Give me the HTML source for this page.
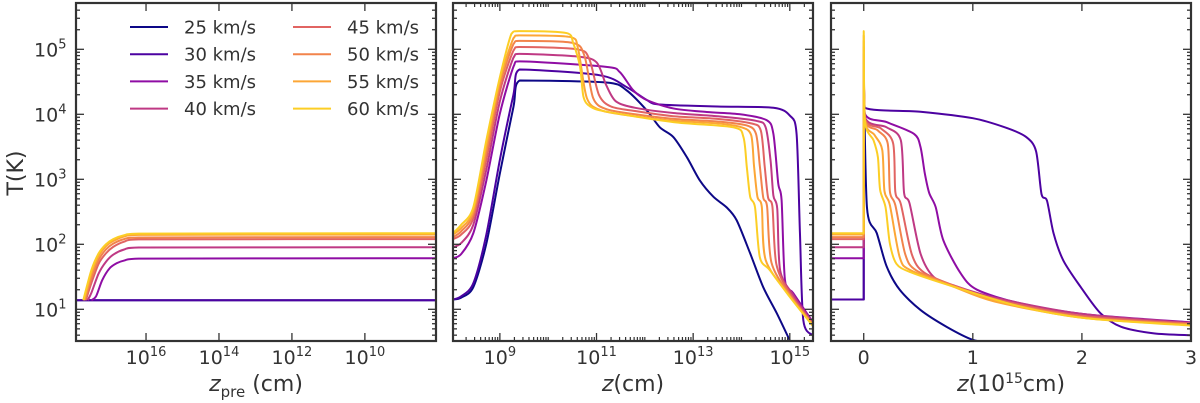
<!DOCTYPE html>
<html><head><meta charset="utf-8"><style>
html,body{margin:0;padding:0;background:#fff;}
svg{display:block;font-family:"DejaVu Sans","Liberation Sans",sans-serif;}
</style></head><body>
<svg id="chart" width="1200" height="403" viewBox="0 0 1200 403"></svg>
<script>
// ---- data (log10 values) ----
const speeds = ["25 km/s","30 km/s","35 km/s","40 km/s","45 km/s","50 km/s","55 km/s","60 km/s"];
const colors = ["#0d0887","#4c02a1","#8f0da4","#bf3984","#e16462","#f2844b","#fca636","#fcce25"];
const yTickExps = [1,2,3,4,5];
const p1TickExps = [16,14,12,10];
const p2TickExps = [9,11,13,15];
const p3Ticks = [0,1,2,3];
// panel 1: [log z_pre, log T]
const pre25 = [[17.92,1.14],[8.05,1.14]];
const pre30 = [[17.92,1.14],[8.05,1.14]];
const pre35 = [[17.5,1.14],[17.37,1.2],[17.2,1.45],[17.0,1.63],[16.8,1.71],[16.6,1.75],[16.2,1.78],[8.05,1.785]];
const pre40 = [[17.6,1.14],[17.5,1.25],[17.3,1.55],[17.1,1.73],[16.9,1.84],[16.6,1.92],[16.2,1.95],[8.05,1.954]];
const pre45 = [[17.65,1.14],[17.5,1.4],[17.3,1.7],[17.1,1.86],[16.9,1.96],[16.6,2.04],[16.2,2.075],[8.05,2.08]];
const pre50 = [[17.68,1.14],[17.5,1.48],[17.3,1.76],[17.1,1.92],[16.9,2.01],[16.6,2.08],[16.2,2.105],[8.05,2.11]];
const pre55 = [[17.7,1.14],[17.5,1.55],[17.3,1.82],[17.1,1.97],[16.9,2.05],[16.6,2.12],[16.2,2.145],[8.05,2.15]];
const pre60 = [[17.72,1.14],[17.5,1.6],[17.3,1.86],[17.1,2.0],[16.9,2.08],[16.6,2.14],[16.2,2.165],[8.05,2.17]];
// panel 2: [log z, log T]
const mid25 = [[8.03,1.15],[8.2,1.18],[8.45,1.34],[8.72,2.01],[9.0,3.09],[9.28,4.11],[9.41,4.52],[11.2,4.49],[11.62,4.37],[12.04,4.06],[12.31,3.8],[12.59,3.65],[12.87,3.34],[13.14,2.98],[13.42,2.73],[13.69,2.57],[13.9,2.37],[14.18,1.86],[14.45,1.34],[14.73,0.94],[15.0,0.52]];
const mid30 = [[8.03,1.15],[8.2,1.2],[8.45,1.4],[8.72,2.15],[9.0,3.3],[9.28,4.3],[9.41,4.69],[11.07,4.6],[11.62,4.42],[12.04,4.22],[12.31,4.15],[13.5,4.12],[14.66,4.1],[15.0,3.98],[15.14,3.7],[15.21,2.17],[15.28,0.83],[15.48,0.6]];
const mid35 = [[8.03,1.785],[8.2,1.85],[8.45,2.17],[8.72,2.98],[9.0,4.01],[9.28,4.73],[9.41,4.815],[11.2,4.73],[11.48,4.65],[11.76,4.37],[12.04,4.22],[12.59,4.09],[13.28,4.035],[13.97,4.0],[14.52,3.91],[14.66,3.7],[14.76,2.94],[14.83,2.68],[14.9,1.45],[15.07,1.25],[15.48,0.8]];
const mid40 = [[8.03,1.954],[8.2,2.02],[8.45,2.3],[8.72,3.15],[9.0,4.2],[9.28,4.87],[9.41,4.93],[10.6,4.89],[11.0,4.8],[11.2,4.45],[11.4,4.2],[11.8,4.1],[12.59,4.02],[13.5,3.97],[14.3,3.9],[14.5,3.8],[14.6,3.3],[14.66,2.75],[14.74,2.55],[14.8,1.6],[15.07,1.22],[15.48,0.78]];
const mid45 = [[8.03,2.08],[8.2,2.15],[8.45,2.4],[8.72,3.3],[9.0,4.35],[9.28,4.98],[9.41,5.035],[10.6,5.0],[10.85,4.85],[11.05,4.3],[11.3,4.12],[11.8,4.05],[12.59,3.97],[13.5,3.93],[14.2,3.86],[14.4,3.75],[14.48,3.2],[14.55,2.72],[14.64,2.58],[14.72,1.7],[15.0,1.25],[15.48,0.77]];
const mid50 = [[8.03,2.11],[8.2,2.2],[8.45,2.47],[8.72,3.42],[9.0,4.45],[9.28,5.08],[9.41,5.13],[10.5,5.1],[10.75,4.9],[10.93,4.25],[11.2,4.08],[11.8,4.0],[12.59,3.93],[13.5,3.89],[14.1,3.83],[14.3,3.7],[14.38,3.2],[14.45,2.72],[14.53,2.58],[14.62,1.72],[15.0,1.22],[15.48,0.76]];
const mid55 = [[8.03,2.15],[8.2,2.25],[8.45,2.52],[8.72,3.52],[9.0,4.52],[9.28,5.17],[9.41,5.215],[10.45,5.19],[10.62,5.0],[10.8,4.25],[11.1,4.06],[11.8,3.97],[12.59,3.9],[13.5,3.86],[14.0,3.8],[14.2,3.68],[14.26,3.2],[14.33,2.73],[14.42,2.58],[14.5,1.76],[15.0,1.2],[15.48,0.75]];
const mid60 = [[8.03,2.17],[8.2,2.3],[8.45,2.57],[8.72,3.6],[9.0,4.57],[9.24,5.24],[9.41,5.28],[10.38,5.25],[10.52,5.09],[10.66,4.73],[10.73,4.27],[10.87,4.12],[11.21,4.04],[12.59,3.88],[13.83,3.8],[14.04,3.65],[14.11,3.19],[14.18,2.73],[14.28,2.57],[14.38,1.8],[14.59,1.6],[15.0,1.19],[15.48,0.74]];
// panel 3: [z (1e15 cm), log T]
const lin25 = [[-0.3,1.15],[0,1.15],[0,4.52],[0.03,2.56],[0.12,2.17],[0.21,1.66],[0.33,1.3],[0.52,0.99],[0.76,0.73],[1.0,0.53],[1.19,0.48]];
const lin30 = [[-0.3,1.15],[0,1.15],[0,4.69],[0.01,4.1],[0.52,4.04],[1.0,3.94],[1.31,3.79],[1.49,3.65],[1.58,3.43],[1.63,2.77],[1.68,2.67],[1.74,2.17],[1.83,1.75],[1.99,1.34],[2.17,0.94],[2.36,0.73],[2.66,0.63],[3.0,0.6]];
const lin35 = [[-0.3,1.785],[0,1.785],[0,4.815],[0.01,4.01],[0.21,3.88],[0.46,3.7],[0.52,3.5],[0.56,3.09],[0.6,2.79],[0.66,2.57],[0.73,2.06],[0.89,1.55],[1.04,1.3],[1.44,1.09],[2.05,0.92],[3.0,0.8]];
const lin40 = [[-0.3,1.954],[0,1.954],[0,4.93],[0.01,3.96],[0.21,3.8],[0.34,3.6],[0.37,2.79],[0.42,2.63],[0.52,1.86],[0.64,1.5],[0.82,1.37],[1.2,1.18],[2.0,0.93],[3.0,0.79]];
const lin45 = [[-0.3,2.08],[0,2.08],[0,5.035],[0.01,3.94],[0.16,3.78],[0.27,3.55],[0.29,2.8],[0.34,2.62],[0.44,1.85],[0.55,1.57],[0.82,1.37],[1.2,1.16],[2.0,0.9],[3.0,0.78]];
const lin50 = [[-0.3,2.11],[0,2.11],[0,5.13],[0.01,3.93],[0.13,3.75],[0.22,3.55],[0.24,2.81],[0.29,2.6],[0.38,1.85],[0.48,1.6],[0.82,1.36],[1.2,1.14],[2.0,0.88],[3.0,0.77]];
const lin55 = [[-0.3,2.15],[0,2.15],[0,5.215],[0.01,3.92],[0.1,3.68],[0.17,3.45],[0.19,2.82],[0.24,2.6],[0.33,1.8],[0.43,1.6],[0.82,1.35],[1.2,1.12],[2.0,0.87],[3.0,0.76]];
const lin60 = [[-0.3,2.17],[0,2.17],[0,5.28],[0.01,3.91],[0.09,3.6],[0.13,3.34],[0.15,2.84],[0.2,2.57],[0.24,2.01],[0.3,1.7],[0.43,1.57],[0.82,1.35],[1.44,1.04],[2.05,0.86],[3.0,0.75]];
const preSeries=[pre25,pre30,pre35,pre40,pre45,pre50,pre55,pre60];
const midSeries=[mid25,mid30,mid35,mid40,mid45,mid50,mid55,mid60];
const linSeries=[lin25,lin30,lin35,lin40,lin45,lin50,lin55,lin60];

const NS="http://www.w3.org/2000/svg";
const svg=document.getElementById("chart");
function mk(tag,attrs,parent){const e=document.createElementNS(NS,tag);for(const k in attrs)e.setAttribute(k,attrs[k]);(parent||svg).appendChild(e);return e;}
function smoothPath(P){
  if(P.length<3)return "M"+P.map(p=>p[0].toFixed(2)+","+p[1].toFixed(2)).join("L");
  let d="M"+P[0][0].toFixed(2)+","+P[0][1].toFixed(2);
  const k=1/7;
  for(let i=0;i<P.length-1;i++){
    const p0=P[Math.max(0,i-1)],p1=P[i],p2=P[i+1],p3=P[Math.min(P.length-1,i+2)];
    let c1x=p1[0]+(p2[0]-p0[0])*k,c1y=p1[1]+(p2[1]-p0[1])*k;
    let c2x=p2[0]-(p3[0]-p1[0])*k,c2y=p2[1]-(p3[1]-p1[1])*k;
    // keep controls within segment x-range to avoid loops
    const lo=Math.min(p1[0],p2[0]),hi=Math.max(p1[0],p2[0]);
    c1x=Math.min(hi,Math.max(lo,c1x));c2x=Math.min(hi,Math.max(lo,c2x));
    const ylo=Math.min(p1[1],p2[1]),yhi=Math.max(p1[1],p2[1]);
    c1y=Math.min(yhi,Math.max(ylo,c1y));c2y=Math.min(yhi,Math.max(ylo,c2y));
    d+="C"+c1x.toFixed(2)+","+c1y.toFixed(2)+" "+c2x.toFixed(2)+","+c2y.toFixed(2)+" "+p2[0].toFixed(2)+","+p2[1].toFixed(2);
  }
  return d;
}
const TOP=3,BOT=341,Y5=49.3,DEC=65;
const yScale=l=>Y5+(5-l)*DEC;
const panels=[
 {name:"pre-shock",x0:76,x1:436,dmin:17.92,dmax:8.05,series:preSeries},
 {name:"log-z",x0:453,x1:813,dmin:8.03,dmax:15.48,series:midSeries},
 {name:"linear-z",x0:831,x1:1191,dmin:-0.3,dmax:3.0,series:linSeries}
];
const INK="#333";
panels.forEach((p,pi)=>{
  const xs=v=>p.x0+(v-p.dmin)/(p.dmax-p.dmin)*(p.x1-p.x0);
  const g=mk("g",{});
  
  
  const cp=mk("clipPath",{id:"clip"+pi},g);
  mk("rect",{x:p.x0,y:TOP,width:p.x1-p.x0,height:BOT-TOP},cp);
  const lg=mk("g",{"clip-path":"url(#clip"+pi+")"},g);
  p.series.forEach((s,i)=>{
    const P=s.map(d=>[xs(d[0]),yScale(d[1])]);
    const pl=mk("path",{d:smoothPath(P),fill:"none",stroke:colors[i],"stroke-width":2,"stroke-linejoin":"round"},lg);
    
    
  });
  for(let e=0;e<=5;e++){
    [1,2,3,4,5,6,7,8,9].forEach(m=>{
      const l=e+Math.log10(m);const y=yScale(l);
      if(y<TOP+1||y>BOT-1)return;
      const len=m===1?8:4;
      mk("line",{x1:p.x0,x2:p.x0+len,y1:y,y2:y,stroke:INK,"stroke-width":1.3},g);
      mk("line",{x1:p.x1,x2:p.x1-len,y1:y,y2:y,stroke:INK,"stroke-width":1.3},g);
    });
  }
  let majors=[],minors=[];
  if(pi===0){majors=p1TickExps;}
  else if(pi===1){majors=p2TickExps;for(let e=8;e<=15;e++){for(let m=1;m<=9;m++){const l=e+Math.log10(m);if(!(m===1&&e%2===1))minors.push(l);}}}
  else majors=p3Ticks;
  majors.forEach(v=>{const x=xs(v);if(x<p.x0||x>p.x1)return;
    mk("line",{x1:x,x2:x,y1:BOT,y2:BOT-8,stroke:INK,"stroke-width":1.3},g);
    mk("line",{x1:x,x2:x,y1:TOP,y2:TOP+8,stroke:INK,"stroke-width":1.3},g);});
  minors.forEach(v=>{const x=xs(v);if(x<p.x0+1||x>p.x1-1)return;
    mk("line",{x1:x,x2:x,y1:BOT,y2:BOT-4,stroke:INK,"stroke-width":1.2},g);
    mk("line",{x1:x,x2:x,y1:TOP,y2:TOP+4,stroke:INK,"stroke-width":1.2},g);});
  majors.forEach(v=>{const x=xs(v);
    const t=mk("text",{x:x,y:364,"text-anchor":"middle","font-size":19,fill:INK},g);
    
    
    if(pi<2){t.textContent="10";const s=mk("tspan",{dy:-8,"font-size":13},t);s.textContent=v;}
    else t.textContent=v;});
  mk("rect",{x:p.x0,y:TOP,width:p.x1-p.x0,height:BOT-TOP,fill:"none",stroke:INK,"stroke-width":2.2},g);
});
yTickExps.forEach(e=>{
  const t=mk("text",{x:34,y:yScale(e)+7,"font-size":19,fill:INK});
  
  
  t.textContent="10";const s=mk("tspan",{dy:-8,"font-size":13},t);s.textContent=e;
});
const yt=mk("text",{x:0,y:0,transform:"translate(23,173) rotate(-90)","text-anchor":"middle","font-size":22,fill:INK});


yt.textContent="T(K)";
const x1t=mk("text",{x:256,y:391,"text-anchor":"middle","font-size":22,fill:INK});


x1t.innerHTML='<tspan font-style="italic">z</tspan><tspan font-size="15" dy="6">pre</tspan><tspan dy="-6"> (cm)</tspan>';
const x2t=mk("text",{x:633,y:391,"text-anchor":"middle","font-size":22,fill:INK});


x2t.innerHTML='<tspan font-style="italic">z</tspan>(cm)';
const x3t=mk("text",{x:1011,y:391,"text-anchor":"middle","font-size":22,fill:INK});


x3t.innerHTML='<tspan font-style="italic">z</tspan>(10<tspan font-size="14" dy="-8">15</tspan><tspan dy="8">cm)</tspan>';
const leg=mk("g",{});


speeds.forEach((s,i)=>{
  const col=Math.floor(i/4),row=i%4;
  const lx=col?293:130, ly=27+row*27.2;
  const e=mk("g",{},leg);
  
  
  mk("line",{x1:lx,x2:lx+38,y1:ly,y2:ly,stroke:colors[i],"stroke-width":2},e);
  const t=mk("text",{x:lx+54,y:ly+6.5,"font-size":18,fill:INK},e);
  t.textContent=s;
});
</script>
</body></html>
